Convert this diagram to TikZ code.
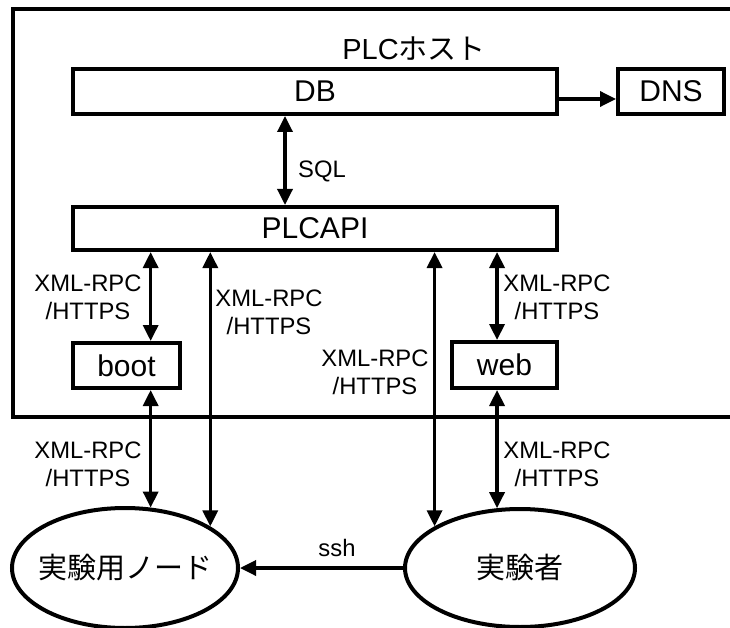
\documentclass[tikz,border=0pt]{standalone}
\usepackage{fontspec}
\setmainfont{Liberation Sans}
\newfontfamily\cjk{Noto Sans CJK JP}
\usetikzlibrary{arrows.meta,shapes.geometric}

\begin{document}
\begin{tikzpicture}[x=1pt,y=-1pt,
  box/.style={draw, line width=4pt, inner sep=0pt, font=\fontsize{30}{34}\selectfont},
  lbl/.style={align=center, inner sep=0pt, font=\fontsize{23.8}{28}\selectfont},
  conn/.style={line width=3.4pt, -{Triangle[length=16pt,width=15pt]}},
  both/.style={line width=3.4pt, {Triangle[length=16pt,width=15pt]}-{Triangle[length=16pt,width=15pt]}},
  actor/.style={draw, ellipse, line width=4pt, inner sep=0pt, font=\fontsize{29}{34}\selectfont\cjk}]

\useasboundingbox (0,0) rectangle (730,628);

% host frame (open to the right)
\draw[line width=4pt] (730,9) -- (13,9) -- (13,417) -- (730,417);

% host components
\node[inner sep=0pt, font=\fontsize{29}{34}\selectfont] (host) at (414,49) {PLC{\cjk ホスト}};
\node[box, minimum width=484pt, minimum height=45pt] (db) at (315,91.5) {DB};
\node[box, minimum width=106pt, minimum height=45pt] (dns) at (671,91.5) {DNS};
\node[box, minimum width=484pt, minimum height=43pt] (api) at (315,228.5) {PLCAPI};
\node[box, minimum width=107pt, minimum height=45pt] (boot) at (126.5,365.5) {boot};
\node[box, minimum width=105pt, minimum height=46pt] (web) at (504.5,365) {web};

% outside actors
\node[actor, minimum width=226pt, minimum height=120pt] (node) at (125,568) {\makebox[0pt]{実験用ノード}};
\node[actor, minimum width=230pt, minimum height=118pt] (user) at (520,568) {\makebox[0pt]{実験者}};

% connectors
\draw[conn] ([yshift=-7.5pt]db.east) -- ([yshift=-7.5pt]dns.west);
\draw[both] ([xshift=-30pt]db.south) -- ([xshift=-30pt]api.north);
\draw[both] (node.67.7 |- api.south) -- (node.67.7 |- boot.north);
\draw[both] (node.67.7 |- boot.south) -- (node.67.7);
\draw[both] (node.26.1 |- api.south) -- (node.26.1);
\draw[both] (user.154.4 |- api.south) -- (user.154.4);
\draw[both] (user.111.7 |- api.south) -- (user.111.7 |- web.north);
\draw[both] (user.111.7 |- web.south) -- (user.111.7);
\draw[conn] (user.west) -- (node.east);

% connector labels
\node[lbl] (sql) at (322,171) {SQL};
\node[lbl] (l1) at (88,297) {XML-RPC\\/HTTPS};
\node[lbl] (l2) at (269,312.5) {XML-RPC\\/HTTPS};
\node[lbl] (l3) at (375,372.5) {XML-RPC\\/HTTPS};
\node[lbl] (l4) at (557,297.5) {XML-RPC\\/HTTPS};
\node[lbl] (l5) at (88,464.5) {XML-RPC\\/HTTPS};
\node[lbl] (l6) at (557,464.5) {XML-RPC\\/HTTPS};
\node[lbl] (ssh) at (337,548) {ssh};
\end{tikzpicture}
\end{document}
